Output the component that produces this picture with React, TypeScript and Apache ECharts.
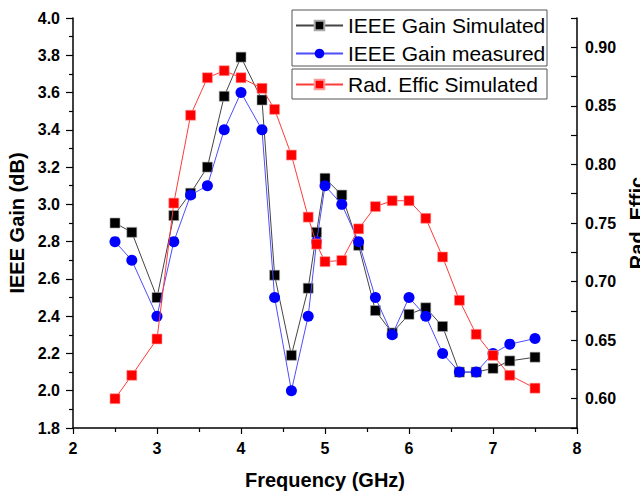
import React, { useEffect, useRef } from "react";
import * as echarts from "echarts";

const freqs = [2.5, 2.7, 3.0, 3.2, 3.4, 3.6, 3.8, 4.0, 4.25, 4.4, 4.6, 4.8, 4.9, 5.0, 5.2, 5.4, 5.6, 5.8, 6.0, 6.2, 6.4, 6.6, 6.8, 7.0, 7.2, 7.5];
const gainSimulated = [2.90, 2.85, 2.50, 2.94, 3.06, 3.20, 3.58, 3.79, 3.56, 2.62, 2.19, 2.55, 2.85, 3.14, 3.05, 2.78, 2.43, 2.31, 2.41, 2.445, 2.345, 2.10, 2.10, 2.12, 2.16, 2.18];
const gainMeasured = [2.80, 2.70, 2.40, 2.80, 3.05, 3.10, 3.40, 3.60, 3.40, 2.50, 2.00, 2.40, 2.80, 3.10, 3.00, 2.80, 2.50, 2.30, 2.50, 2.40, 2.20, 2.10, 2.10, 2.20, 2.25, 2.28];
const radEfficSimulated = [0.600, 0.620, 0.651, 0.767, 0.842, 0.874, 0.880, 0.874, 0.865, 0.847, 0.808, 0.755, 0.732, 0.717, 0.718, 0.745, 0.764, 0.769, 0.769, 0.754, 0.721, 0.684, 0.655, 0.637, 0.620, 0.609];

const seriesNames = ["IEEE Gain Simulated", "IEEE Gain measured", "Rad. Effic Simulated"];
const xAxisTitle = "Frequency (GHz)";
const leftAxisTitle = "IEEE Gain (dB)";
const rightAxisTitle = "Rad. Effic";

const FONT = "'Liberation Sans', Arial, sans-serif";

export default function App() {
  const ref = useRef<HTMLDivElement>(null);
  useEffect(() => {
    document.body.style.margin = "0";
    const chart = echarts.init(ref.current!, undefined, { renderer: "svg" });
    const pairs = (ys: number[]) => freqs.map((f, i) => [f, ys[i]]);
    const axisLine = { show: true, lineStyle: { color: "#000", width: 1.5 } };
    const tickLabel = { color: "#000", fontWeight: "bold" as const, fontSize: 16, fontFamily: FONT };
    const nameStyle = { color: "#000", fontWeight: "bold" as const, fontSize: 20, fontFamily: FONT };
    const legendText = { fontSize: 21, color: "#000", fontFamily: FONT, lineHeight: 20 };
    chart.setOption({
      animation: false,
      backgroundColor: "#fff",
      textStyle: { fontFamily: FONT },
      grid: { left: 73, right: 63, top: 18, bottom: 68, containLabel: false, outerBoundsMode: "none" },
      legend: [
        {
          data: [seriesNames[0], seriesNames[1]],
          orient: "vertical",
          left: 295,
          top: 15,
          padding: 0,
          itemWidth: 47,
          itemHeight: 12,
          itemGap: 7,
          textStyle: legendText,
        },
        {
          data: [seriesNames[2]],
          orient: "vertical",
          left: 295,
          top: 74,
          padding: 0,
          itemWidth: 47,
          itemHeight: 12,
          textStyle: legendText,
        },
      ],
      graphic: [
        { type: "rect", shape: { x: 292, y: 10, width: 255, height: 56 }, style: { fill: "none", stroke: "#555", lineWidth: 1 }, z: 100 },
        { type: "rect", shape: { x: 292, y: 69, width: 255, height: 30 }, style: { fill: "none", stroke: "#555", lineWidth: 1 }, z: 100 },
      ],
      xAxis: {
        type: "value",
        min: 2,
        max: 8,
        interval: 1,
        name: xAxisTitle,
        nameLocation: "middle",
        nameGap: 42,
        nameTextStyle: nameStyle,
        axisLine,
        axisTick: { show: true, length: 6, lineStyle: { color: "#000", width: 1.2 } },
        minorTick: { show: true, splitNumber: 2, length: 4, lineStyle: { color: "#000", width: 1.2 } },
        splitLine: { show: false },
        axisLabel: { ...tickLabel, margin: 12 },
      },
      yAxis: [
        {
          type: "value",
          position: "left",
          min: 1.8,
          max: 4.0,
          interval: 0.2,
          name: leftAxisTitle,
          nameLocation: "middle",
          nameGap: 44,
          nameTextStyle: nameStyle,
          axisLine,
          axisTick: { show: true, length: 7, lineStyle: { color: "#000", width: 1.2 } },
          minorTick: { show: true, splitNumber: 2, length: 4, lineStyle: { color: "#000", width: 1.2 } },
          splitLine: { show: false },
          axisLabel: { ...tickLabel, margin: 13, formatter: (v: number) => v.toFixed(1) },
        },
        {
          type: "value",
          position: "right",
          min: 0.575,
          max: 0.925,
          interval: 0.025,
          name: rightAxisTitle,
          nameLocation: "middle",
          nameRotate: 90,
          nameGap: 48,
          nameTextStyle: nameStyle,
          axisLine,
          axisTick: { show: true, inside: true, length: 6, lineStyle: { color: "#000", width: 1.2 } },
          splitLine: { show: false },
          axisLabel: {
            ...tickLabel,
            margin: 8,
            formatter: (v: number) => (Math.round(v * 1000) % 50 === 0 ? v.toFixed(2) : ""),
          },
        },
      ],
      series: [
        {
          name: seriesNames[0],
          type: "line",
          yAxisIndex: 0,
          data: pairs(gainSimulated),
          symbol: "rect",
          symbolSize: 10,
          itemStyle: { color: "#000", borderColor: "#aaa", borderWidth: 0.6 },
          lineStyle: { color: "#444", width: 1 },
          z: 2,
        },
        {
          name: seriesNames[1],
          type: "line",
          yAxisIndex: 0,
          data: pairs(gainMeasured),
          symbol: "circle",
          symbolSize: 11,
          itemStyle: { color: "#0000ff" },
          lineStyle: { color: "#4d4dff", width: 1 },
          z: 3,
        },
        {
          name: seriesNames[2],
          type: "line",
          yAxisIndex: 1,
          data: pairs(radEfficSimulated),
          symbol: "rect",
          symbolSize: 10,
          itemStyle: { color: "#ff0000", borderColor: "#ff9a9a", borderWidth: 0.6 },
          lineStyle: { color: "#ff3b3b", width: 1 },
          z: 4,
        },
      ],
    });
    return () => chart.dispose();
  }, []);
  return <div ref={ref} style={{ width: 640, height: 496 }} />;
}
